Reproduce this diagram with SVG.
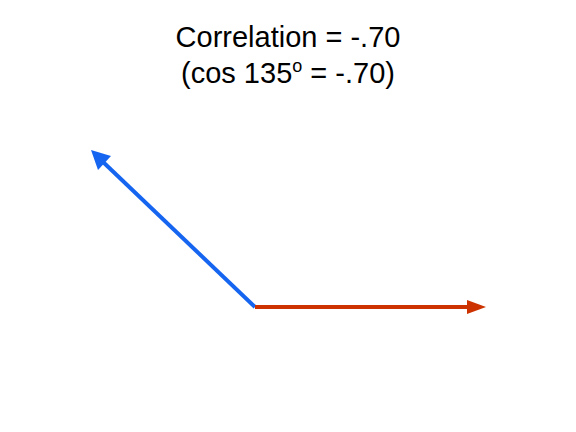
<svg xmlns="http://www.w3.org/2000/svg" width="576" height="432" viewBox="0 0 576 432">
<style>
text{font-family:"Liberation Sans",Arial,sans-serif;font-size:29px;fill:#000;text-anchor:middle}
.v{stroke-width:4;fill:none}
</style>
<rect width="576" height="432" fill="#fff"/>
<g id="title">
<text x="288" y="47">Correlation = -.70</text>
<text x="288" y="83">(cos 135<tspan font-size="18" dy="-11">o</tspan><tspan dy="11"> = -.70)</tspan></text>
</g>
<g id="connectors">
<line class="v" x1="255" y1="307" x2="102" y2="161" stroke="#1565f0"/>
<polygon points="91,150 98,170 111,156" fill="#1565f0"/>
<line class="v" x1="255" y1="307" x2="472" y2="307" stroke="#cc3300"/>
<polygon points="486,307 467,300 467,314" fill="#cc3300"/>
</g>
</svg>
